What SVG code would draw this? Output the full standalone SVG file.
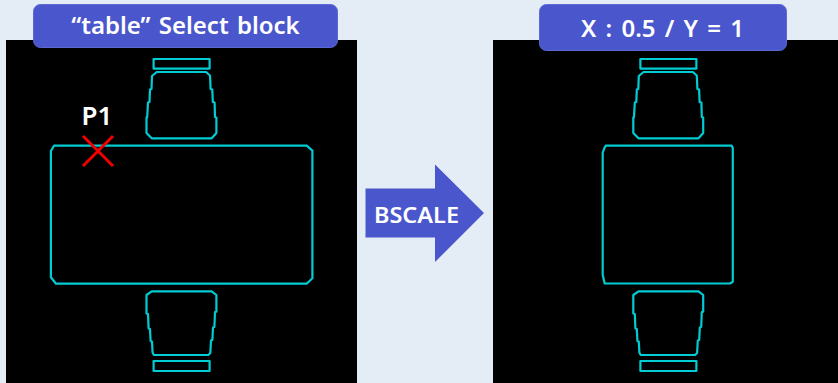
<svg xmlns="http://www.w3.org/2000/svg" width="838" height="383" viewBox="0 0 838 383">
<style>
.panel{fill:#000}
.cad{fill:none;stroke:#00ccd4;stroke-width:2.2;stroke-linejoin:round}
.banner{fill:#4a56cc;stroke:#5c68d4;stroke-width:1}
text{font-family:"Noto Sans","Liberation Sans",sans-serif;font-weight:600;fill:#fff}
.x{stroke:#f00000;stroke-width:3;fill:none}
</style>
<defs>
<g id="chairTop">
<rect class="cad" x="153.6" y="59" width="56" height="9.6"/>
<path class="cad" d="M156.7 72H206L210 75.5L210.6 89L212.3 89.5L212.8 102L214.6 102.5L215 117L216.4 117.5V133L211.7 138.3H151.7L146.5 133V117.5L147.2 117L148 102.5L149.5 102L150 89.5L151.5 89L152 76Z"/>
</g>
<g id="chairBottom">
<rect class="cad" x="153.6" y="361" width="56" height="10"/>
<path class="cad" d="M151.7 291.3H211.7L216.4 295V311.7L215 312L214.4 327L213 327.5L212.4 340L211 340.5L210.3 353L208.3 355H154L152.6 352.7L152 341.7L150.6 341L150 329L148.6 328.5L148 314L146.5 313.5V295Z"/>
</g>
</defs>
<rect width="838" height="383" fill="#e4ecf6"/>
<g id="panel-left">
<rect class="panel" x="6" y="40" width="351" height="343"/>
<use href="#chairTop"/>
<use href="#chairBottom"/>
<path id="table-wide" class="cad" d="M54 145.7H306.7L312.4 150.7V278.3L306.7 283.7H56L50.9 277.3V151Z"/>
</g>
<g id="panel-right">
<rect class="panel" x="493" y="40" width="345" height="343"/>
<use href="#chairTop" x="486.8"/>
<use href="#chairBottom" x="486.8"/>
<path id="table-narrow" class="cad" d="M605.7 145.7H731.7L732.8 148.3V281.7L730 283.5H604.7L602.7 275V152.7L604.3 148.3Z"/>
</g>
<g id="p1">
<path class="x" d="M83 136L113 166M113 136L83 166"/>
<text x="97" y="125" font-size="26" font-weight="700" text-anchor="middle">P1</text>
</g>
<g id="label-left">
<rect class="banner" x="33.5" y="4.5" width="304" height="43" rx="7"/>
<text x="185.5" y="34" font-size="24" text-anchor="middle" word-spacing="2">“table” Select block</text>
</g>
<g id="label-right">
<rect class="banner" x="539.5" y="4.5" width="247" height="46" rx="7"/>
<text x="662.5" y="37" font-size="24" text-anchor="middle" word-spacing="3">X : 0.5 / Y = 1</text>
</g>
<g id="connectors">
<g id="bscale-arrow">
<path d="M365.5 188.5H435V164.5L484 213L435 262V237.5H365.5Z" fill="#4a56cc"/>
<text x="416.5" y="223" font-size="22" text-anchor="middle" textLength="85" lengthAdjust="spacingAndGlyphs">BSCALE</text>
</g>
</g>
</svg>
